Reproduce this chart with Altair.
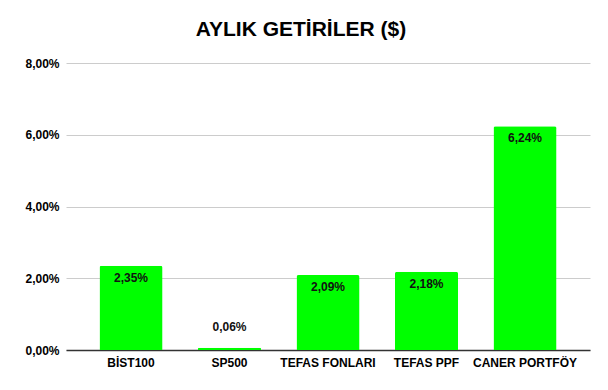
import altair as alt
import pandas as pd

categories = ["BİST100", "SP500", "TEFAS FONLARI", "TEFAS PPF", "CANER PORTFÖY"]
values = [2.35, 0.06, 2.09, 2.18, 6.24]

df = pd.DataFrame({"cat": categories, "val": values})
df["label"] = [f"{v:.2f}".replace(".", ",") + "%" for v in values]

FONT = "Liberation Sans"

base = alt.Chart(df).encode(
    x=alt.X("cat:N", sort=categories, title=None,
            scale=alt.Scale(paddingInner=0.36, paddingOuter=0.34),
            axis=alt.Axis(labelAngle=0, labelFont=FONT, labelFontWeight="bold",
                          labelFontSize=12, labelColor="#000", ticks=False, grid=False,
                          domainColor="#333", domainWidth=1.5, labelPadding=7)),
    y=alt.Y("val:Q", title=None,
            scale=alt.Scale(domain=[0, 8], nice=False),
            axis=alt.Axis(values=[0, 2, 4, 6, 8], ticks=False, domain=False,
                          labelFont=FONT, labelFontWeight="bold", labelFontSize=12,
                          labelColor="#000", labelPadding=7, gridColor="#cccccc",
                          labelExpr="replace(format(datum.value, '.2f'), '.', ',') + '%'")),
)

bars = base.mark_bar(color="#00ff00", cornerRadiusTopLeft=2, cornerRadiusTopRight=2)

inside = base.transform_filter("datum.val >= 1").mark_text(
    baseline="top", dy=7, font=FONT, fontWeight="bold", fontSize=12, color="#111"
).encode(text="label:N")

above = base.transform_filter("datum.val < 1").mark_text(
    baseline="bottom", dy=-14, font=FONT, fontWeight="bold", fontSize=12, color="#111"
).encode(text="label:N")

chart = alt.layer(bars, inside, above).properties(
    width=524, height=287,
    background="white",
    title=alt.Title("AYLIK GETİRİLER ($)", font=FONT, fontSize=21, fontWeight="bold",
                    color="#000", anchor="middle", dx=-27, offset=17),
    autosize=alt.AutoSizeParams(type="none"),
    padding={"left": 66, "top": 63, "right": 18, "bottom": 40},
).configure_view(stroke=None)

chart.save("out.html", embed_options={"renderer": "svg", "actions": False})
